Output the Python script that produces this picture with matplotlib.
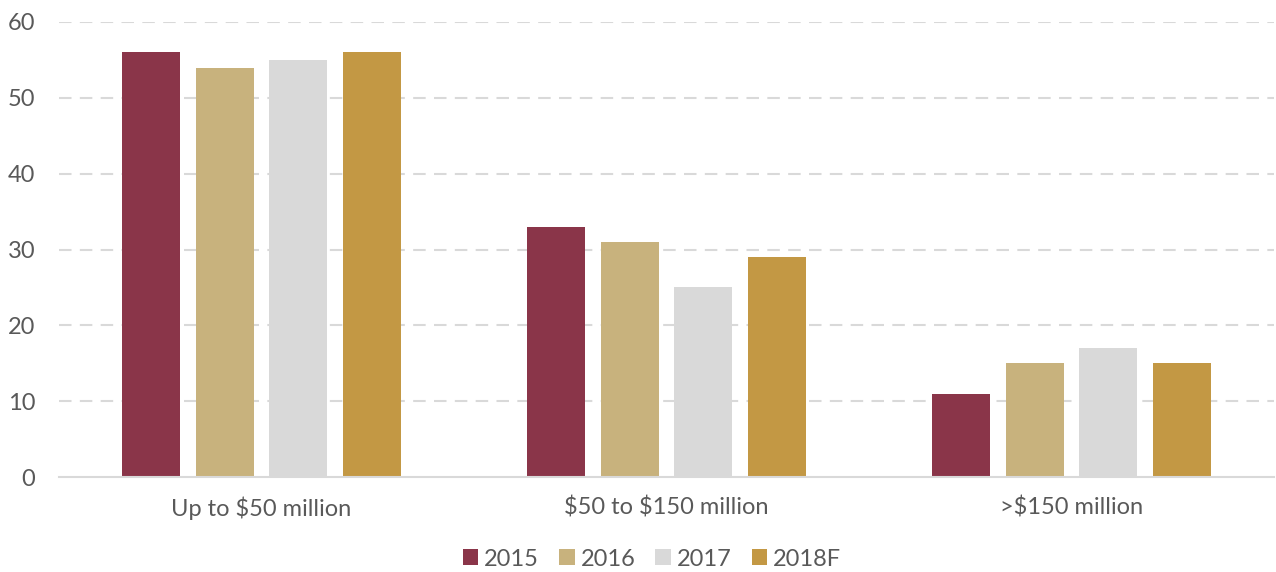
import matplotlib
matplotlib.use("Agg")
import matplotlib.pyplot as plt
import numpy as np
from matplotlib.patches import Patch

categories = ["Up to \\$50 million", "\\$50 to \\$150 million", ">\\$150 million"]
series_names = ["2015", "2016", "2017", "2018F"]
v2015 = [56, 33, 11]
v2016 = [54, 31, 15]
v2017 = [55, 25, 17]
v2018 = [56, 29, 15]
yticks = [0, 10, 20, 30, 40, 50, 60]

colors = ["#8A3549", "#C8B27D", "#D9D9D9", "#C39844"]
text_color = "#595959"

plt.rcParams['font.family'] = ['Lato', 'DejaVu Sans']

fig = plt.figure(figsize=(12.76, 5.72), dpi=100)
ax = fig.add_axes([59/1276, 1-477/572, 1215/1276, (477-22)/572])

x = np.arange(len(categories))
width = 58/405
step = 73.5/405
for i, (vals, c) in enumerate(zip([v2015, v2016, v2017, v2018], colors)):
    ax.bar(x + (i-1.5)*step, vals, width=width, color=c, zorder=3)

ax.set_xlim(-0.5, 2.5)
ax.set_ylim(0, 60)
ax.set_yticks(yticks)
ax.set_yticklabels([str(t) for t in yticks])
ax.set_xticks(x)
ax.set_xticklabels(categories)

for t in yticks[1:]:
    ax.axhline(t, color="#D9D9D9", lw=1.5, ls=(0, (6, 4)), zorder=1)
ax.axhline(0, color="#D9D9D9", lw=1.5, zorder=4, clip_on=False)

for s in ax.spines.values():
    s.set_visible(False)
ax.tick_params(axis='both', length=0, labelsize=17, colors=text_color)
ax.tick_params(axis='y', pad=17)
ax.tick_params(axis='x', pad=14)

handles = [Patch(facecolor=c, edgecolor='none') for c in colors]
fig.legend(handles, series_names, loc='center', bbox_to_anchor=(652/1276, 1-559/572),
           ncol=4, frameon=False, fontsize=17, labelcolor=text_color,
           handlelength=0.65, handleheight=0.65, handletextpad=0.25, columnspacing=0.85)

fig.savefig("out.png", dpi=100)
